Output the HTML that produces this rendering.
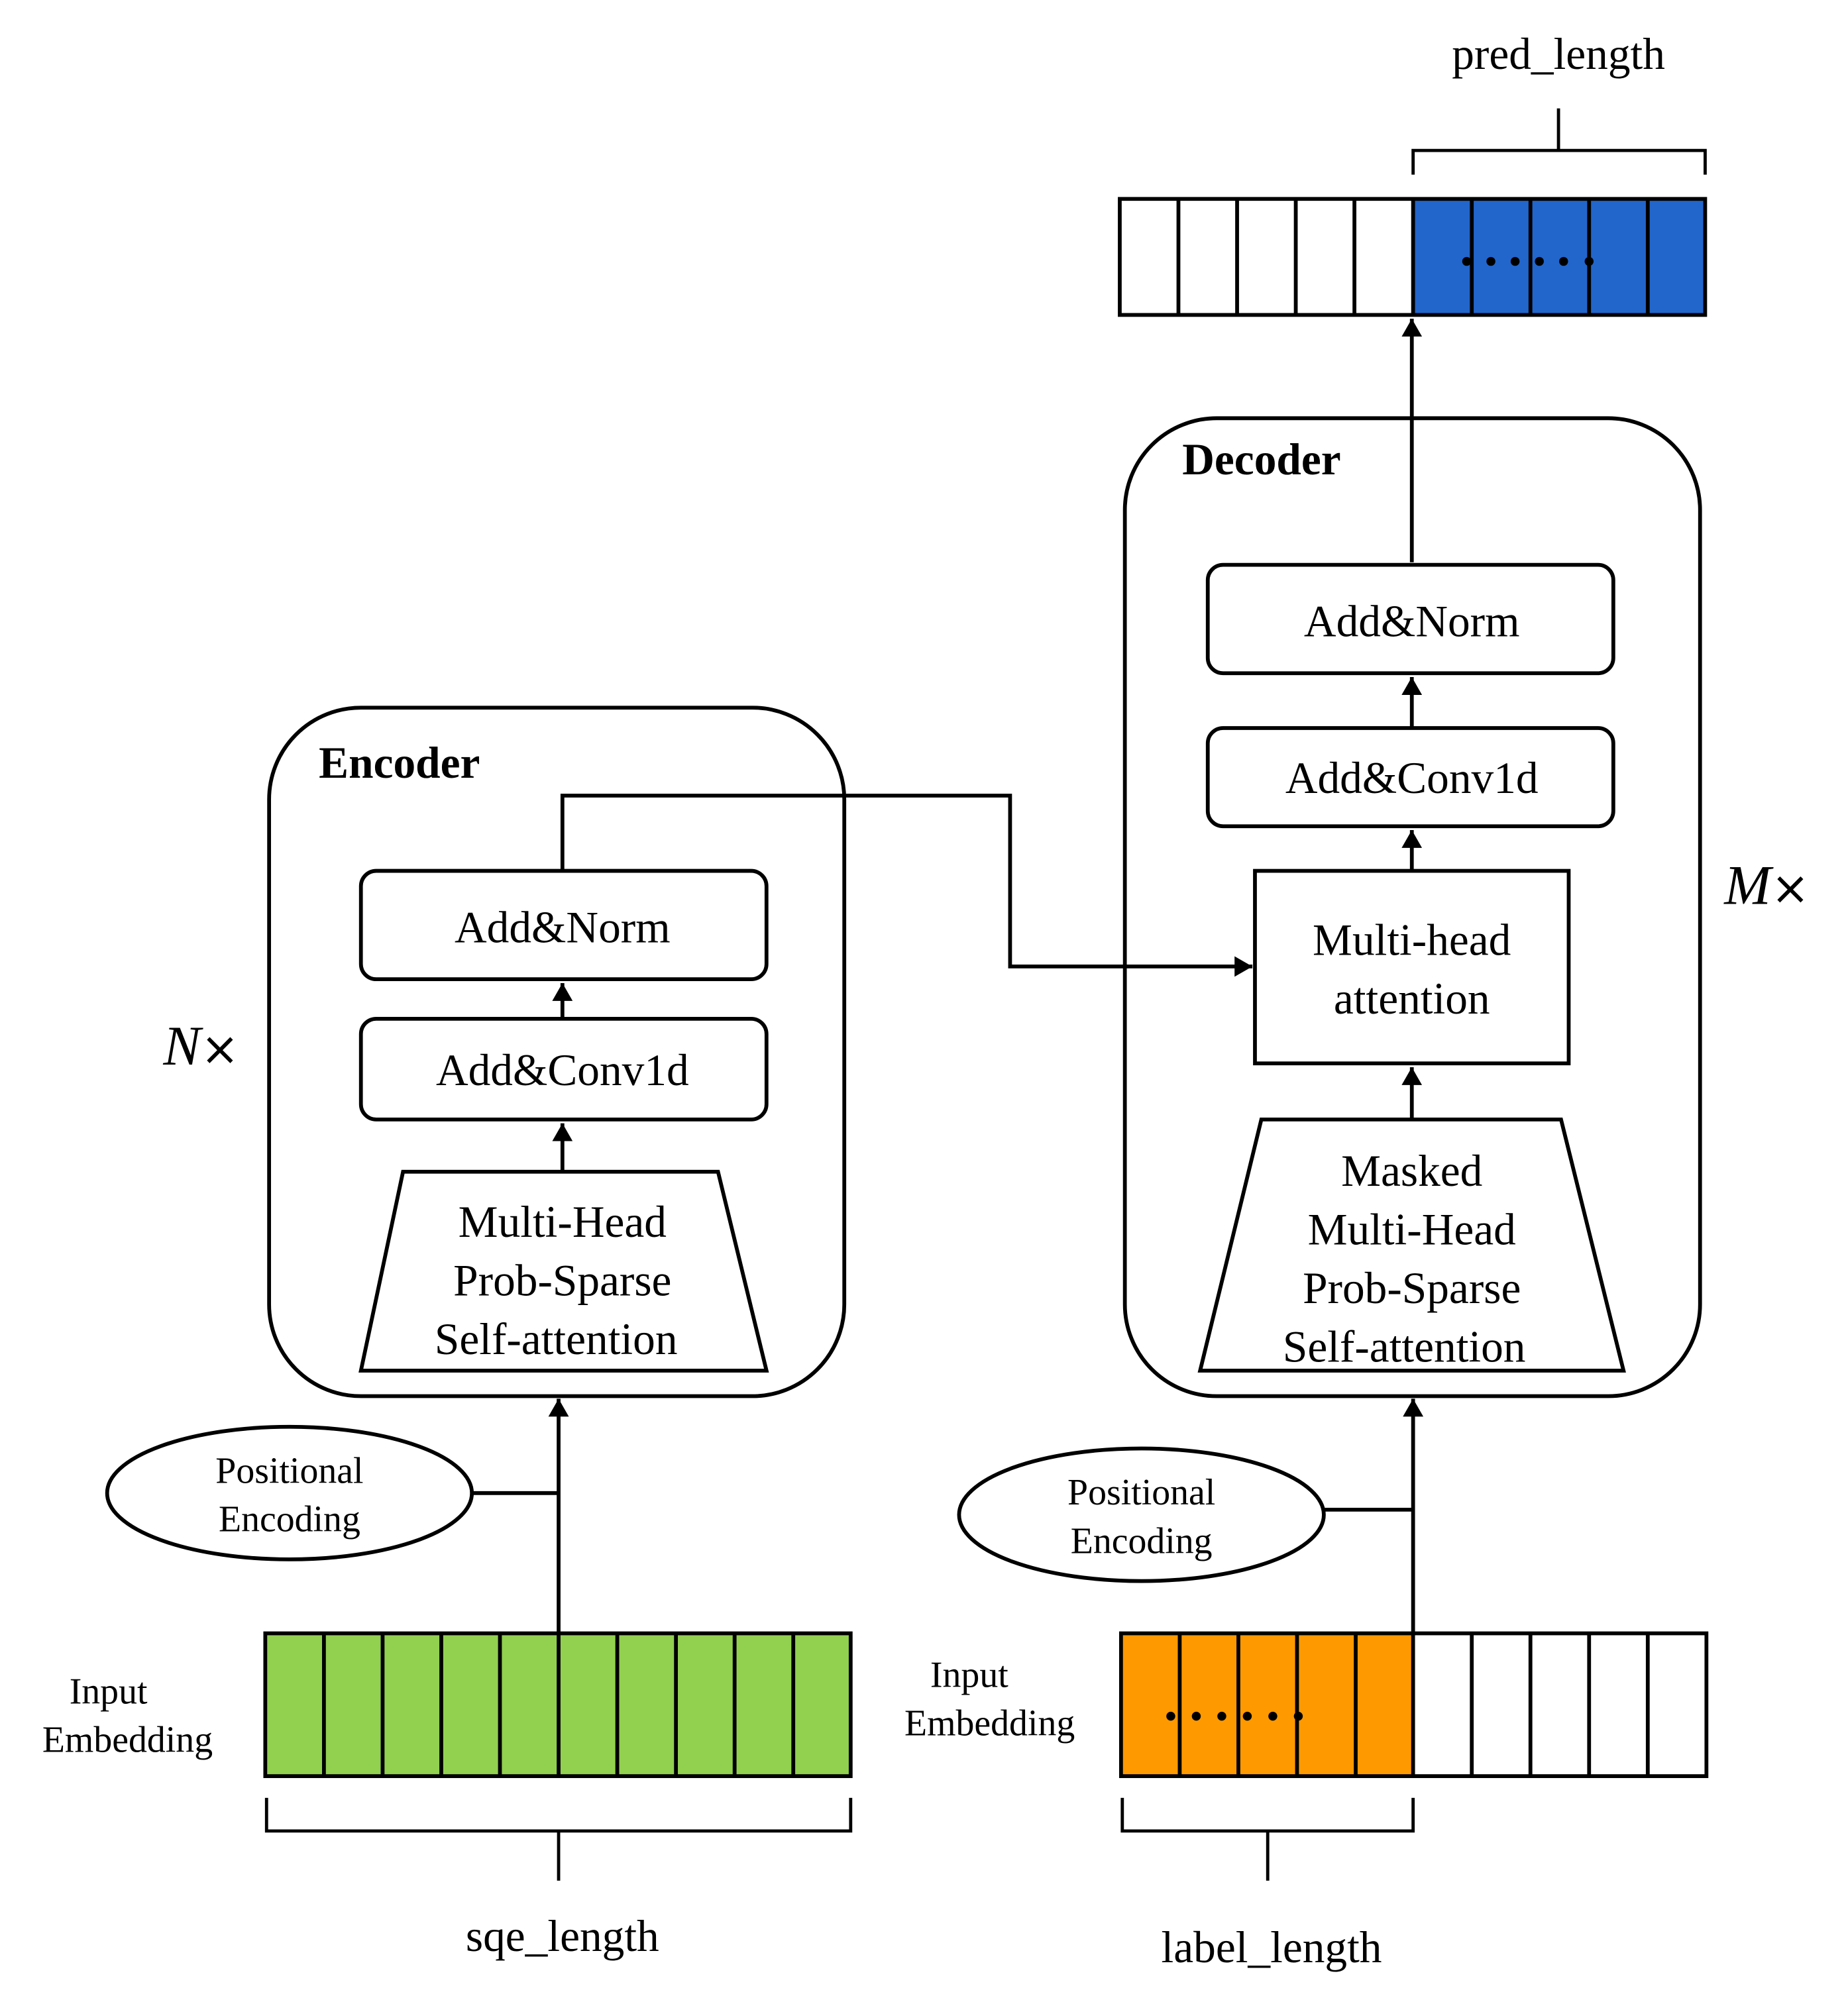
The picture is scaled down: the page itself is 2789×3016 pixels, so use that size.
<!DOCTYPE html>
<html><head><meta charset="utf-8"><style>html,body{margin:0;padding:0;background:#fff}svg{display:block}</style></head>
<body>
<svg width="2789" height="3016" viewBox="0 0 1449 1567" preserveAspectRatio="none" xmlns="http://www.w3.org/2000/svg" font-family="Liberation Serif, serif">
<defs>
<marker id="b" markerWidth="14" markerHeight="16" refX="14" refY="8" orient="auto" markerUnits="userSpaceOnUse"><path d="M0,0 L14,8 L0,16 z" fill="#000"/></marker></defs>
<g fill="none" stroke="#000" stroke-width="3">
<rect x="1108" y="156" width="229" height="91" fill="#2266cc" stroke="none"/>
<rect x="878" y="156" width="459" height="91"/>
<path d="M924,156V247M970,156V247M1016,156V247M1062,156V247M1108,156V247M1154,156V247M1200,156V247M1246,156V247M1292,156V247"/>
<path d="M1108,137V118H1337V137M1222,118V85" stroke-width="2.5"/>
<rect x="882" y="328" width="451" height="767" rx="72"/>
<rect x="947" y="443" width="318" height="85" rx="12"/>
<rect x="947" y="571" width="318" height="77" rx="12"/>
<rect x="984" y="683" width="246" height="151"/>
<path d="M989,878H1224L1273,1075H941Z"/>
<path d="M1107,441V250" marker-end="url(#b)"/>
<path d="M1107,571V531" marker-end="url(#b)"/>
<path d="M1107,683V651" marker-end="url(#b)"/>
<path d="M1107,878V837" marker-end="url(#b)"/>
<path d="M1108,1281V1097" marker-end="url(#b)"/>
<rect x="211" y="555" width="451" height="540" rx="72"/>
<rect x="283" y="683" width="318" height="85" rx="12"/>
<rect x="283" y="799" width="318" height="79" rx="12"/>
<path d="M316,919H563L601,1075H283Z"/>
<path d="M441,799V771" marker-end="url(#b)"/>
<path d="M441,919V881" marker-end="url(#b)"/>
<path d="M438,1281V1097" marker-end="url(#b)"/>
<path d="M441,683V624H792V758H982" marker-end="url(#b)"/>
<ellipse cx="227" cy="1171" rx="143" ry="52"/>
<path d="M370,1171H438"/>
<ellipse cx="895" cy="1188" rx="143" ry="52"/>
<path d="M1038,1184H1108"/>
<rect x="208" y="1281" width="459" height="112" fill="#92d050"/>
<path d="M254,1281V1393M300,1281V1393M346,1281V1393M392,1281V1393M438,1281V1393M484,1281V1393M530,1281V1393M576,1281V1393M622,1281V1393"/>
<path d="M209,1410V1436H667V1410M438,1436V1475" stroke-width="2.5"/>
<rect x="879" y="1281" width="229" height="112" fill="#ff9900" stroke="none"/>
<rect x="879" y="1281" width="459" height="112"/>
<path d="M925,1281V1393M971,1281V1393M1017,1281V1393M1063,1281V1393M1108,1281V1393M1154,1281V1393M1200,1281V1393M1246,1281V1393M1292,1281V1393"/>
<path d="M880,1410V1436H1108V1410M994,1436V1475" stroke-width="2.5"/>
</g>
<g fill="#000">
<circle cx="1150" cy="205" r="3.5"/><circle cx="1169" cy="205" r="3.5"/><circle cx="1188" cy="205" r="3.5"/><circle cx="1207" cy="205" r="3.5"/><circle cx="1226" cy="205" r="3.5"/><circle cx="1246" cy="205" r="3.5"/>
<circle cx="918" cy="1346" r="3.5"/><circle cx="938" cy="1346" r="3.5"/><circle cx="958" cy="1346" r="3.5"/><circle cx="978" cy="1346" r="3.5"/><circle cx="998" cy="1346" r="3.5"/><circle cx="1018" cy="1346" r="3.5"/>
</g>
<g font-size="35" text-anchor="middle" fill="#000">
<text x="1222" y="54">pred_length</text>
<text x="1107" y="499">Add&amp;Norm</text>
<text x="1107" y="622">Add&amp;Conv1d</text>
<text x="1107" y="749">Multi-head</text>
<text x="1107" y="795">attention</text>
<text x="1107" y="930">Masked</text>
<text x="1107" y="976">Multi-Head</text>
<text x="1107" y="1022">Prob-Sparse</text>
<text x="1101" y="1068">Self-attention</text>
<text x="441" y="739">Add&amp;Norm</text>
<text x="441" y="851">Add&amp;Conv1d</text>
<text x="441" y="970">Multi-Head</text>
<text x="441" y="1016">Prob-Sparse</text>
<text x="436" y="1062">Self-attention</text>
<text x="441" y="1530">sqe_length</text>
<text x="997" y="1539">label_length</text>
</g>
<g font-size="29" text-anchor="middle" fill="#000">
<text x="227" y="1163">Positional</text>
<text x="227" y="1201">Encoding</text>
<text x="895" y="1180">Positional</text>
<text x="895" y="1218">Encoding</text>
<text x="85" y="1336">Input</text>
<text x="100" y="1374">Embedding</text>
<text x="760" y="1323">Input</text>
<text x="776" y="1361">Embedding</text>
</g>
<text x="927" y="372" font-size="35" font-weight="bold">Decoder</text>
<text x="250" y="610" font-size="35" font-weight="bold">Encoder</text>
<text x="1352" y="709" font-size="44" font-style="italic">M<tspan font-style="normal" font-family="DejaVu Sans, sans-serif" font-size="36">×</tspan></text>
<text x="128" y="835" font-size="44" font-style="italic">N<tspan font-style="normal" font-family="DejaVu Sans, sans-serif" font-size="36">×</tspan></text>
</svg>
</body></html>
